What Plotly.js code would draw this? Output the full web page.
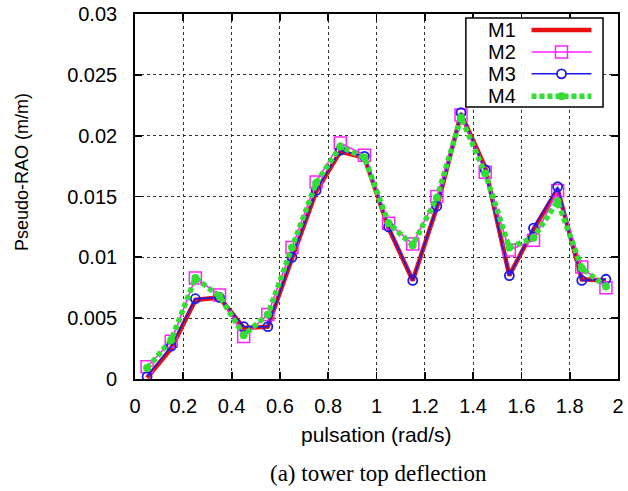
<!DOCTYPE html>
<html>
<head>
<meta charset="utf-8">
<script src="https://cdn.plot.ly/plotly-3.0.1.min.js"></script>
<style>
  html, body { margin: 0; padding: 0; background: #fff; }
  #chart { width: 628px; height: 491px; }
</style>
</head>
<body>
<div id="chart"></div>
<script>
// Pulsation (rad/s) at which each model was evaluated
const pulsation = [0.05, 0.15, 0.25, 0.35, 0.45, 0.55, 0.65, 0.75, 0.85, 0.95,
                   1.05, 1.15, 1.25, 1.35, 1.45, 1.55, 1.65, 1.75, 1.85, 1.95];

// Pseudo-RAO of the tower top deflection (m/m) per model
const m1 = [0.0001, 0.0025, 0.0065, 0.0067, 0.0042, 0.0043, 0.0099, 0.0154, 0.0187, 0.0182,
            0.0124, 0.0081, 0.0141, 0.0218, 0.0174, 0.0085, 0.0123, 0.0156, 0.0082, 0.0081];
const m2 = [0.0010, 0.0031, 0.0083, 0.0069, 0.0035, 0.0053, 0.0108, 0.0162, 0.0194, 0.0184,
            0.0128, 0.0111, 0.0150, 0.0217, 0.0170, 0.0106, 0.0114, 0.0155, 0.0092, 0.0075];
const m3 = [0.0002, 0.0027, 0.0066, 0.0067, 0.0043, 0.0043, 0.0100, 0.0155, 0.0188, 0.0183,
            0.0125, 0.0081, 0.0142, 0.0219, 0.0172, 0.0085, 0.0124, 0.0158, 0.0081, 0.0082];
const m4 = [0.0009, 0.0032, 0.0083, 0.0068, 0.0036, 0.0053, 0.0108, 0.0161, 0.0191, 0.0182,
            0.0128, 0.0110, 0.0149, 0.0215, 0.0169, 0.0108, 0.0116, 0.0146, 0.0091, 0.0076];

const seriesNames = ['M1', 'M2', 'M3', 'M4'];

const RED = '#e81010', MAGENTA = '#ff22ff', BLUE = '#1a1aee', GREEN = '#33dd33';
const M4_DASH = '5px,3px';

const traces = [
  { x: pulsation, y: m1, name: seriesNames[0], mode: 'lines',
    line: { color: RED, width: 4.5 } },
  { x: pulsation, y: m2, name: seriesNames[1], mode: 'lines+markers',
    line: { color: MAGENTA, width: 1.5 },
    marker: { symbol: 'square-open', size: 12, color: MAGENTA, line: { width: 1.5, color: MAGENTA } } },
  { x: pulsation, y: m3, name: seriesNames[2], mode: 'lines+markers',
    line: { color: BLUE, width: 1.5 },
    marker: { symbol: 'circle-open', size: 9, color: BLUE, line: { width: 1.8, color: BLUE } } },
  { x: pulsation, y: m4, name: seriesNames[3], mode: 'lines+markers',
    line: { color: GREEN, width: 5.5, dash: M4_DASH },
    marker: { symbol: 'circle', size: 8, color: GREEN } }
];

// Legend drawn in the gnuplot style: label on the left, line sample on the right
const legX0 = 0.685, legX1 = 0.969, legY0 = 0.745, legY1 = 0.989;
const rowY = [0.956, 0.896, 0.836, 0.775];
const textX = 0.79, lineX0 = 0.821, lineX1 = 0.945, markX = 0.883;

const shapes = [
  { type: 'rect', xref: 'paper', yref: 'paper', x0: legX0, x1: legX1, y0: legY0, y1: legY1,
    fillcolor: '#fff', line: { color: '#000', width: 1.5 }, layer: 'above' },
  { type: 'line', xref: 'paper', yref: 'paper', x0: lineX0, x1: lineX1, y0: rowY[0], y1: rowY[0],
    line: { color: RED, width: 4.5 } },
  { type: 'line', xref: 'paper', yref: 'paper', x0: lineX0, x1: lineX1, y0: rowY[1], y1: rowY[1],
    line: { color: MAGENTA, width: 1.5 } },
  { type: 'rect', xref: 'paper', yref: 'paper', xsizemode: 'pixel', ysizemode: 'pixel',
    xanchor: markX, yanchor: rowY[1], x0: -6, x1: 6, y0: -6, y1: 6,
    fillcolor: 'rgba(0,0,0,0)', line: { color: MAGENTA, width: 1.5 } },
  { type: 'line', xref: 'paper', yref: 'paper', x0: lineX0, x1: lineX1, y0: rowY[2], y1: rowY[2],
    line: { color: BLUE, width: 1.5 } },
  { type: 'circle', xref: 'paper', yref: 'paper', xsizemode: 'pixel', ysizemode: 'pixel',
    xanchor: markX, yanchor: rowY[2], x0: -4.5, x1: 4.5, y0: -4.5, y1: 4.5,
    fillcolor: '#fff', line: { color: BLUE, width: 1.8 } },
  { type: 'line', xref: 'paper', yref: 'paper', x0: lineX0, x1: lineX1, y0: rowY[3], y1: rowY[3],
    line: { color: GREEN, width: 5.5, dash: M4_DASH } },
  { type: 'circle', xref: 'paper', yref: 'paper', xsizemode: 'pixel', ysizemode: 'pixel',
    xanchor: markX, yanchor: rowY[3], x0: -4, x1: 4, y0: -4, y1: 4,
    fillcolor: GREEN, line: { color: GREEN, width: 0 } }
];

const sans = 'Liberation Sans, Arial, Helvetica, sans-serif';

const annotations = seriesNames.map((n, i) => ({
  text: n, xref: 'paper', yref: 'paper', x: textX, y: rowY[i],
  xanchor: 'right', yanchor: 'middle', showarrow: false,
  height: 20, borderpad: 0, valign: 'middle',
  font: { family: sans, size: 20, color: '#000' }
}));

annotations.push(
  { text: 'Pseudo-RAO (m/m)', xref: 'paper', yref: 'paper', x: -0.234, y: 0.567,
    textangle: -90, xanchor: 'center', yanchor: 'middle', showarrow: false,
    font: { family: sans, size: 18, color: '#000' } },
  { text: 'pulsation (rad/s)', xref: 'paper', yref: 'paper', x: 0.5, y: -0.153,
    xanchor: 'center', yanchor: 'middle', showarrow: false,
    font: { family: sans, size: 21, color: '#000' } },
  { text: '(a) tower top deflection', xref: 'paper', yref: 'paper', x: 0.505, y: -0.258,
    xanchor: 'center', yanchor: 'middle', showarrow: false,
    font: { family: 'Liberation Serif, Times New Roman, serif', size: 23, color: '#000' } }
);

const axisCommon = {
  showline: true, linecolor: '#000', linewidth: 1.8, mirror: 'allticks',
  ticks: 'inside', ticklen: 7, tickwidth: 1.8, tickcolor: '#000',
  showgrid: true, gridcolor: '#333', gridwidth: 1, griddash: 'dot',
  zeroline: false, tickfont: { family: sans, size: 20, color: '#000' }
};

const layout = {
  width: 628, height: 491,
  margin: { l: 135, r: 10, t: 14, b: 112 },
  paper_bgcolor: '#fff', plot_bgcolor: '#fff',
  showlegend: false,
  xaxis: Object.assign({}, axisCommon, { range: [0, 2], dtick: 0.2, tick0: 0, ticklabelstandoff: 8 }),
  yaxis: Object.assign({}, axisCommon, { range: [0, 0.03], dtick: 0.005, tick0: 0, ticklabelstandoff: 12 }),
  shapes: shapes,
  annotations: annotations
};

Plotly.newPlot('chart', traces, layout, { staticPlot: true, displayModeBar: false });
</script>
</body>
</html>
